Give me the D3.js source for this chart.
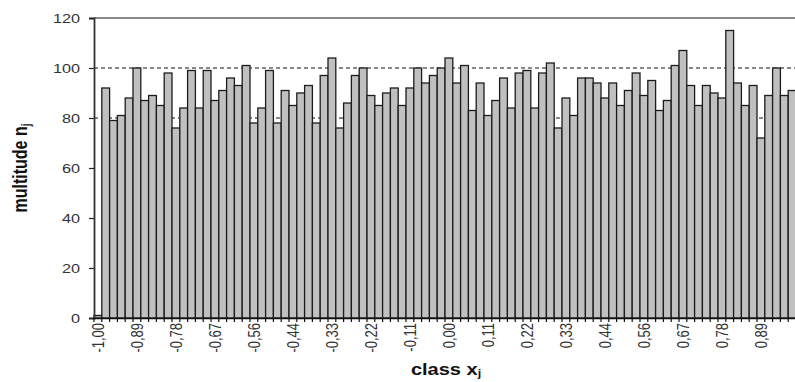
<!DOCTYPE html>
<html>
<head>
<meta charset="utf-8">
<script src="https://cdn.jsdelivr.net/npm/d3@7"></script>
<style>
  html, body { margin: 0; padding: 0; background: #fff; }
  svg { display: block; }
  text { font-family: Arial, "Liberation Sans", sans-serif; }
</style>
</head>
<body>
<svg id="chart" width="795" height="382"></svg>
<script>
// Class midpoints x_j (width 2/90 on [-1, 1])
const classes = [
  "-1,00","-0,98","-0,96","-0,93","-0,91","-0,89","-0,87","-0,84","-0,82","-0,80",
  "-0,78","-0,76","-0,73","-0,71","-0,69","-0,67","-0,64","-0,62","-0,60","-0,58",
  "-0,56","-0,53","-0,51","-0,49","-0,47","-0,44","-0,42","-0,40","-0,38","-0,36",
  "-0,33","-0,31","-0,29","-0,27","-0,24","-0,22","-0,20","-0,18","-0,16","-0,13",
  "-0,11","-0,09","-0,07","-0,04","-0,02","0,00","0,02","0,04","0,07","0,09",
  "0,11","0,13","0,16","0,18","0,20","0,22","0,24","0,27","0,29","0,31",
  "0,33","0,36","0,38","0,40","0,42","0,44","0,47","0,49","0,51","0,53",
  "0,56","0,58","0,60","0,62","0,64","0,67","0,69","0,71","0,73","0,76",
  "0,78","0,80","0,82","0,84","0,87","0,89","0,91","0,93","0,96","0,98"
];

// Multitude n_j per class
const multitude = [
  1, 92, 79, 81, 88, 100, 87, 89, 85, 98,
  76, 84, 99, 84, 99, 87, 91, 96, 93, 101,
  78, 84, 99, 78, 91, 85, 90, 93, 78, 97,
  104, 76, 86, 97, 100, 89, 85, 90, 92, 85,
  92, 100, 94, 97, 100, 104, 94, 101, 83, 94,
  81, 87, 96, 84, 98, 99, 84, 98, 102, 76,
  88, 81, 96, 96, 94, 88, 94, 85, 91, 98,
  89, 95, 83, 87, 101, 107, 93, 85, 93, 90,
  88, 115, 94, 85, 93, 72, 89, 100, 89, 91
];

// Labelled classes (every fifth) and y ticks
const labelledClasses = classes.filter((c, i) => i % 5 === 0);
const yTicks = [0, 20, 40, 60, 80, 100, 120];
const gridLevels = [80, 100];

const svg = d3.select("#chart");
const plotL = 94, plotR = 796, plotT = 18, plotB = 318;
const sx = 1.25; // horizontal text stretch

const x = d3.scaleBand().domain(classes).range([plotL, plotR]).padding(0);
const y = d3.scaleLinear().domain([0, 120]).range([plotB, plotT]);

// dashed gridlines
svg.append("g").selectAll("line").data(gridLevels).join("line")
  .attr("x1", plotL).attr("x2", plotR)
  .attr("y1", d => y(d)).attr("y2", d => y(d))
  .attr("stroke", "#111").attr("stroke-width", 1)
  .attr("stroke-dasharray", "4,3");

// top border
svg.append("line")
  .attr("x1", plotL).attr("x2", plotR)
  .attr("y1", y(120)).attr("y2", y(120))
  .attr("stroke", "#111").attr("stroke-width", 1.2);

// bars
const data = classes.map((c, i) => ({ c, v: multitude[i] }));
svg.append("g").selectAll("rect").data(data).join("rect")
  .attr("x", d => x(d.c))
  .attr("y", d => y(d.v))
  .attr("width", x.bandwidth())
  .attr("height", d => y(0) - y(d.v))
  .attr("fill", "#c0c0c0")
  .attr("stroke", "#1c1c1c")
  .attr("stroke-width", 1.3);

// y axis
const yAxis = svg.append("g")
  .attr("transform", `translate(${plotL},0)`)
  .call(d3.axisLeft(y).tickValues(yTicks).tickSize(5).tickFormat(""));
yAxis.select(".domain").attr("stroke", "#333").attr("stroke-width", 1.8);
yAxis.selectAll(".tick line").attr("stroke", "#222").attr("stroke-width", 1.2);

svg.append("g").selectAll("text").data(yTicks).join("text")
  .attr("transform", d => `translate(80,${y(d)}) scale(${sx},1)`)
  .attr("dy", "0.35em")
  .attr("text-anchor", "end")
  .attr("font-size", 13)
  .attr("fill", "#333")
  .text(d => d);

// x axis: ticks at class boundaries
const xAxis = svg.append("g")
  .attr("transform", `translate(0,${plotB})`)
  .call(d3.axisBottom(x).tickSize(0).tickFormat(""));
xAxis.select(".domain").attr("stroke", "#111").attr("stroke-width", 1.5);
svg.append("g").selectAll("line").data(classes).join("line")
  .attr("x1", d => x(d)).attr("x2", d => x(d))
  .attr("y1", plotB).attr("y2", plotB + 4)
  .attr("stroke", "#111").attr("stroke-width", 1.2);

svg.append("g").selectAll("text").data(labelledClasses).join("text")
  .attr("transform", d => `translate(${x(d) + x.bandwidth() / 2},${plotB + 5}) scale(${sx},1) rotate(-90)`)
  .attr("dy", "0.35em")
  .attr("text-anchor", "end")
  .attr("font-size", 13)
  .attr("fill", "#333")
  .text(d => d);

// axis titles
const xt = svg.append("text")
  .attr("transform", `translate(446,375) scale(${sx},1)`)
  .attr("text-anchor", "middle")
  .attr("font-size", 16).attr("font-weight", "bold").attr("fill", "#111");
xt.append("tspan").text("class x");
xt.append("tspan").attr("font-size", 10).attr("dy", 2).text("j");

const yt = svg.append("text")
  .attr("transform", `translate(27,168) scale(${sx},1) rotate(-90)`)
  .attr("text-anchor", "middle")
  .attr("font-size", 16).attr("font-weight", "bold").attr("fill", "#111");
yt.append("tspan").text("multitude n");
yt.append("tspan").attr("font-size", 10).attr("dy", 2).text("j");
</script>
</body>
</html>
